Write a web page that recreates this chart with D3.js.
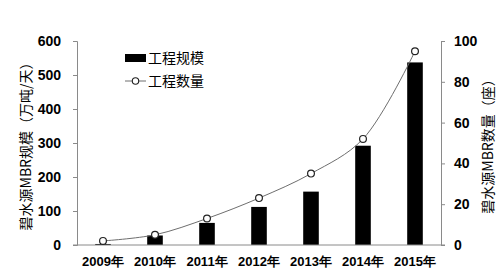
<!DOCTYPE html>
<html>
<head>
<meta charset="utf-8">
<script src="https://cdn.jsdelivr.net/npm/d3@7"></script>
<style>
  html, body { margin: 0; padding: 0; background: #fff; }
  svg { display: block; }
  .tick text { font-family: "Liberation Sans", Arial, sans-serif; font-weight: bold; font-size: 14px; fill: #000; }
  .cjk { font-family: "Noto Sans CJK SC", sans-serif; }
</style>
</head>
<body>
<div id="chart"></div>
<script>
const years = ["2009年", "2010年", "2011年", "2012年", "2013年", "2014年", "2015年"];
const scale = [3, 28, 65, 112, 157, 292, 537];   // 工程规模 (万吨/天)
const count = [2, 5, 13, 23, 35, 52, 95];        // 工程数量 (座)
const leftTicks = [0, 100, 200, 300, 400, 500, 600];
const rightTicks = [0, 20, 40, 60, 80, 100];

const width = 500, height = 279;
const margin = { top: 41, right: 59, bottom: 34, left: 77 };

const svg = d3.select("#chart").append("svg")
  .attr("width", width)
  .attr("height", height);

const x = d3.scaleBand()
  .domain(years)
  .range([margin.left, width - margin.right])
  .paddingInner(0.7)
  .paddingOuter(0.35);

const yL = d3.scaleLinear().domain([0, 600]).range([height - margin.bottom, margin.top]);
const yR = d3.scaleLinear().domain([0, 100]).range([height - margin.bottom, margin.top]);

const axisColor = "#8a8a8a";

// bars
svg.append("g")
  .selectAll("rect")
  .data(scale)
  .join("rect")
  .attr("x", (d, i) => x(years[i]))
  .attr("y", d => yL(d))
  .attr("width", x.bandwidth())
  .attr("height", d => yL(0) - yL(d))
  .attr("fill", "#000");

// left axis
const gL = svg.append("g")
  .attr("transform", `translate(${margin.left},0)`)
  .call(d3.axisLeft(yL).tickValues(leftTicks).tickSize(4).tickPadding(12));
gL.selectAll("path, line").attr("stroke", axisColor);

// right axis
const gR = svg.append("g")
  .attr("transform", `translate(${width - margin.right},0)`)
  .call(d3.axisRight(yR).tickValues(rightTicks).tickSize(4).tickPadding(9));
gR.selectAll("path, line").attr("stroke", axisColor);

// x axis
const gX = svg.append("g")
  .attr("transform", `translate(0,${height - margin.bottom})`)
  .call(d3.axisBottom(x).tickSize(0).tickPadding(12));
gX.select(".domain").attr("stroke", axisColor)
  .attr("d", `M${margin.left - 4},0H${width - margin.right + 4}`);
gX.selectAll(".tick text").attr("class", "cjk").style("font-weight", "bold").style("font-size", "13px");

// line
const cx = (d, i) => x(years[i]) + x.bandwidth() / 2;
const line = d3.line()
  .x(cx)
  .y(d => yR(d))
  .curve(d3.curveCatmullRom.alpha(0.5));

svg.append("path")
  .datum(count)
  .attr("d", line)
  .attr("fill", "none")
  .attr("stroke", "#6e6e6e")
  .attr("stroke-width", 1);

svg.append("g")
  .selectAll("circle")
  .data(count)
  .join("circle")
  .attr("cx", cx)
  .attr("cy", d => yR(d))
  .attr("r", 3.4)
  .attr("fill", "#fff")
  .attr("stroke", "#222")
  .attr("stroke-width", 1.2);

// axis titles
svg.append("text")
  .attr("class", "cjk")
  .attr("transform", `translate(31,${(yL(0) + yL(600)) / 2}) rotate(-90)`)
  .attr("text-anchor", "middle")
  .attr("font-size", "14px")
  .attr("fill", "#000")
  .text("碧水源MBR规模（万吨/天）");

svg.append("text")
  .attr("class", "cjk")
  .attr("transform", `translate(493,${(yR(0) + yR(100)) / 2}) rotate(-90)`)
  .attr("text-anchor", "middle")
  .attr("font-size", "14px")
  .attr("fill", "#000")
  .text("碧水源MBR数量（座）");

// legend
const lg = svg.append("g").attr("transform", "translate(125,0)");
lg.append("rect").attr("x", 0).attr("y", 54).attr("width", 21).attr("height", 8).attr("fill", "#000");
lg.append("text").attr("class", "cjk").attr("x", 23).attr("y", 58).attr("dy", "0.35em")
  .attr("font-size", "14px").text("工程规模");
lg.append("line").attr("x1", 0).attr("x2", 21).attr("y1", 81).attr("y2", 81)
  .attr("stroke", "#6e6e6e");
lg.append("circle").attr("cx", 10.5).attr("cy", 81).attr("r", 3.2)
  .attr("fill", "#fff").attr("stroke", "#222").attr("stroke-width", 1.1);
lg.append("text").attr("class", "cjk").attr("x", 23).attr("y", 81).attr("dy", "0.35em")
  .attr("font-size", "14px").text("工程数量");
</script>
</body>
</html>
